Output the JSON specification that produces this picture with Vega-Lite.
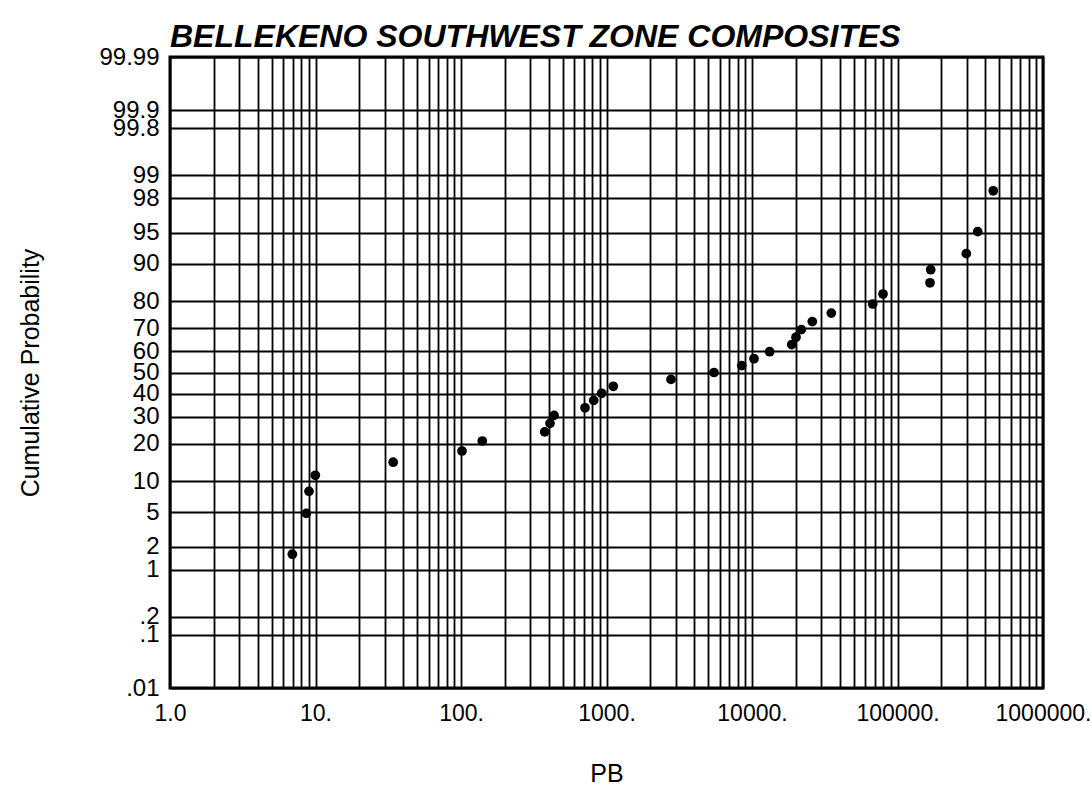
{
  "$schema": "https://vega.github.io/schema/vega-lite/v6.json",
  "width": 873,
  "height": 631,
  "autosize": "none",
  "padding": {"left": 170, "top": 57, "right": 49, "bottom": 97},
  "background": "white",
  "title": {
    "text": "BELLEKENO SOUTHWEST ZONE COMPOSITES",
    "anchor": "start",
    "frame": "group",
    "font": "Liberation Sans",
    "fontSize": 32,
    "fontStyle": "italic",
    "fontWeight": "bold",
    "color": "black",
    "baseline": "alphabetic",
    "offset": -34
  },
  "config": {
    "view": {"stroke": "black", "strokeWidth": 3},
    "font": "Liberation Sans"
  },
  "data": {
    "values": [
      {"pb": 6.93, "p": 1.61},
      {"pb": 8.65, "p": 4.84},
      {"pb": 9.02, "p": 8.06},
      {"pb": 9.97, "p": 11.29},
      {"pb": 34.2, "p": 14.52},
      {"pb": 101.6, "p": 17.74},
      {"pb": 140, "p": 20.97},
      {"pb": 376, "p": 24.19},
      {"pb": 409, "p": 27.42},
      {"pb": 436, "p": 30.65},
      {"pb": 712, "p": 33.87},
      {"pb": 817, "p": 37.10},
      {"pb": 927, "p": 40.32},
      {"pb": 1113, "p": 43.55},
      {"pb": 2776, "p": 46.77},
      {"pb": 5480, "p": 50.00},
      {"pb": 8500, "p": 53.23},
      {"pb": 10320, "p": 56.45},
      {"pb": 13230, "p": 59.68},
      {"pb": 18750, "p": 62.90},
      {"pb": 20060, "p": 66.13},
      {"pb": 21820, "p": 69.35},
      {"pb": 25970, "p": 72.58},
      {"pb": 35080, "p": 75.81},
      {"pb": 67530, "p": 79.03},
      {"pb": 79500, "p": 82.26},
      {"pb": 167300, "p": 85.48},
      {"pb": 169100, "p": 88.71},
      {"pb": 297100, "p": 91.94},
      {"pb": 355900, "p": 95.16},
      {"pb": 455300, "p": 98.39}
    ]
  },
  "transform": [{"calculate": "quantileNormal(datum.p / 100)", "as": "z"}],
  "mark": {"type": "circle", "size": 95, "color": "black", "opacity": 1},
  "encoding": {
    "x": {
      "field": "pb",
      "type": "quantitative",
      "scale": {"type": "log", "domain": [1, 1000000], "nice": false},
      "axis": {
        "title": "PB",
        "values": [1,2,3,4,5,6,7,8,9,10,20,30,40,50,60,70,80,90,100,200,300,400,500,600,700,800,900,1000,2000,3000,4000,5000,6000,7000,8000,9000,10000,20000,30000,40000,50000,60000,70000,80000,90000,100000,200000,300000,400000,500000,600000,700000,800000,900000,1000000],
        "labelExpr": "datum.value == 1 ? '1.0' : (indexof([10,100,1000,10000,100000,1000000], datum.value) >= 0 ? format(datum.value, 'd') + '.' : '')",
        "grid": true,
        "gridColor": "black",
        "gridWidth": 1.8,
        "gridOpacity": 1,
        "ticks": false,
        "tickSize": 0,
        "domain": false,
        "labelFontSize": 23,
        "labelColor": "black",
        "labelPadding": 14,
        "labelOverlap": false,
        "labelFlush": false,
        "titleFontSize": 25,
        "titleFontWeight": "normal",
        "titleColor": "black",
        "titlePadding": 36
      }
    },
    "y": {
      "field": "z",
      "type": "quantitative",
      "scale": {"type": "linear", "domain": [-3.719, 3.719], "nice": false, "zero": false},
      "axis": {
        "title": "Cumulative Probability",
        "values": [-3.719, -3.0902, -2.8782, -2.3263, -2.0537, -1.6449, -1.2816, -0.8416, -0.5244, -0.2533, 0, 0.2533, 0.5244, 0.8416, 1.2816, 1.6449, 2.0537, 2.3263, 2.8782, 3.0902, 3.719],
        "labelExpr": "round(cumulativeNormal(datum.value) * 10000) / 100 < 1 ? substring(toString(round(cumulativeNormal(datum.value) * 10000) / 100), 1) : toString(round(cumulativeNormal(datum.value) * 10000) / 100)",
        "grid": true,
        "gridColor": "black",
        "gridWidth": 1.8,
        "gridOpacity": 1,
        "ticks": false,
        "tickSize": 0,
        "domain": false,
        "labelFontSize": 24,
        "labelColor": "black",
        "labelPadding": 11,
        "labelOverlap": false,
        "labelFlush": false,
        "titleFontSize": 25,
        "titleFontWeight": "normal",
        "titleColor": "black",
        "titlePadding": 55
      }
    }
  }
}
